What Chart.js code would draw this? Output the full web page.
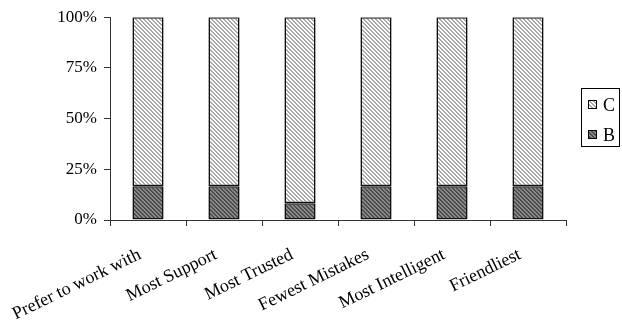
<!DOCTYPE html>
<html>
<head>
<meta charset="utf-8">
<script src="https://cdn.jsdelivr.net/npm/chart.js@4.4.1/dist/chart.umd.min.js"></script>
<style>
  html, body { margin: 0; padding: 0; background: #fff; }
  #wrap { width: 622px; height: 322px; }
</style>
</head>
<body>
<div id="wrap"><canvas id="c" width="622" height="322"></canvas></div>
<script>
// Share of answers per question (percent of respondents)
const categories = ['Prefer to work with', 'Most Support', 'Most Trusted', 'Fewest Mistakes', 'Most Intelligent', 'Friendliest'];
const seriesB = [16.7, 16.7, 8.3, 16.7, 16.7, 16.7];
const seriesC = [83.3, 83.3, 91.7, 83.3, 83.3, 83.3];
const yTicks = [0, 25, 50, 75, 100];

const FONT = '"Liberation Serif", "Times New Roman", serif';

// Diagonal hatch fill built on a small tile
function hatch(bg, fg) {
  const t = document.createElement('canvas');
  t.width = 4; t.height = 4;
  const g = t.getContext('2d');
  g.fillStyle = bg; g.fillRect(0, 0, 4, 4);
  g.fillStyle = fg;
  for (let y = 0; y < 4; y++) {
    for (let x = 0; x < 4; x++) {
      const d = ((x - y) % 4 + 4) % 4;
      if (d === 0 || d === 1) g.fillRect(x, y, 1, 1);
    }
  }
  return g.createPattern(t, 'repeat');
}

const ctx = document.getElementById('c').getContext('2d');
const fillC = hatch('#ffffff', '#a8a8a8');
const fillB = hatch('#8a8a8a', '#4c4c4c');

// Boxed legend on the right, top series first
const boxedLegend = {
  id: 'boxedLegend',
  afterDraw(chart) {
    const c = chart.ctx;
    const x0 = 581.5, y0 = 88.5, w = 38, h = 58;
    c.save();
    c.fillStyle = '#fff';
    c.fillRect(x0, y0, w, h);
    c.strokeStyle = '#000';
    c.lineWidth = 1;
    c.strokeRect(x0, y0, w, h);
    const items = chart.data.datasets.slice().reverse();
    c.font = '18px ' + FONT;
    c.textBaseline = 'middle';
    items.forEach((ds, i) => {
      const cy = 105 + i * 30;
      c.fillStyle = ds.backgroundColor;
      c.fillRect(588, cy - 5, 9, 9);
      c.strokeStyle = '#000';
      c.lineWidth = 1;
      c.strokeRect(588.5, cy - 4.5, 8, 8);
      c.fillStyle = '#000';
      c.fillText(ds.label, 603, cy + 1);
    });
    c.restore();
  }
};

new Chart(ctx, {
  type: 'bar',
  data: {
    labels: categories,
    datasets: [
      { label: 'B', data: seriesB, backgroundColor: fillB, borderColor: '#111', borderWidth: 1.6, borderSkipped: false },
      { label: 'C', data: seriesC, backgroundColor: fillC, borderColor: '#111', borderWidth: 1.6, borderSkipped: false }
    ]
  },
  options: {
    responsive: false,
    animation: false,
    devicePixelRatio: 1,
    layout: { padding: { left: 0, right: 56, top: 16, bottom: 0 } },
    datasets: { bar: { barPercentage: 0.41, categoryPercentage: 1 } },
    plugins: {
      legend: { display: false },
      tooltip: { enabled: false }
    },
    scales: {
      x: {
        stacked: true,
        offset: true,
        grid: { display: true, drawOnChartArea: false, offset: true, color: '#000', tickLength: 6, tickColor: '#333' },
        border: { display: true, color: '#333', width: 1 },
        ticks: {
          color: '#000',
          font: { family: FONT, size: 18 },
          minRotation: 26,
          maxRotation: 26,
          autoSkip: false,
          labelOffset: -8,
          padding: 18
        },
        afterFit(scale) {
          scale.height = 102;
          scale.paddingLeft = 0;
          scale.paddingRight = 0;
        }
      },
      y: {
        stacked: true,
        min: 0,
        max: 100,
        afterBuildTicks(scale) { scale.ticks = yTicks.map(v => ({ value: v })); },
        grid: { display: true, drawOnChartArea: false, color: '#333', tickLength: 6 },
        border: { display: true, color: '#333', width: 1 },
        ticks: {
          color: '#000',
          font: { family: FONT, size: 17 },
          padding: 7,
          callback: v => v + '%'
        },
        afterFit(scale) { scale.width = 110; }
      }
    }
  },
  plugins: [boxedLegend]
});
</script>
</body>
</html>
